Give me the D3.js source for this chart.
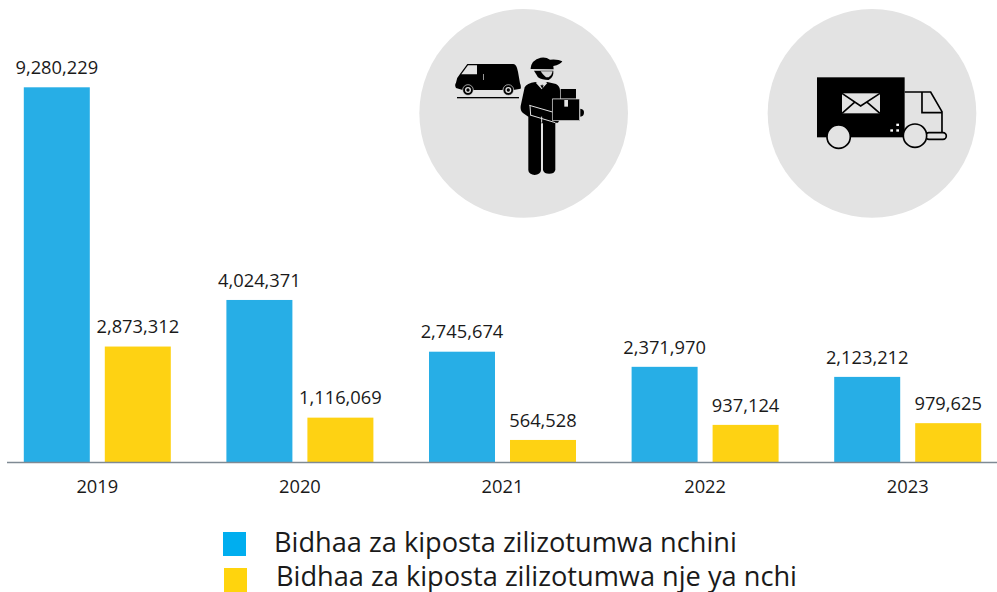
<!DOCTYPE html>
<html><head><meta charset="utf-8">
<script src="https://cdn.jsdelivr.net/npm/d3@7"></script>
<style>html,body{margin:0;padding:0;background:#fff}svg{display:block}text{font-family:"Open Sans",sans-serif;fill:#1a1a1a}</style>
</head><body><svg id="c" width="997" height="592"></svg>
<script>
const years = ["2019","2020","2021","2022","2023"];
const seriesNames = ["Bidhaa za kiposta zilizotumwa nchini","Bidhaa za kiposta zilizotumwa nje ya nchi"];
const domestic = [9280229,4024371,2745674,2371970,2123212];
const international = [2873312,1116069,564528,937124,979625];
const barColors = ["#27aee6","#fed213"];
const legendColors = ["#00aeef","#ffd40d"];

const svg = d3.select("#c");
const baseY = 462.5;
const x0 = d3.scaleBand().domain(years).range([-4,1009]);
const x1 = d3.scaleBand().domain([0,1]).range([x0.bandwidth()/2-73.5,x0.bandwidth()/2+73.5]).paddingInner(15/81).paddingOuter(0);
const y = d3.scaleLinear().domain([0,9280229]).range([baseY,87]);

[domestic,international].forEach((vals,s)=>{
  svg.append("g").selectAll("rect").data(vals).join("rect")
    .attr("x",(d,i)=>x0(years[i])+x1(s)).attr("width",x1.bandwidth())
    .attr("y",d=>y(d)+0.3).attr("height",d=>baseY-y(d)-0.3).attr("fill",barColors[s]);
  svg.append("g").selectAll("text").data(vals).join("text")
    .attr("x",(d,i)=>x0(years[i])+x1(s)+x1.bandwidth()/2)
    .attr("y",d=>y(d)-13).attr("text-anchor","middle").attr("font-size",18.3)
    .text(d3.format(","));
});

const axis = svg.append("g").attr("transform",`translate(0,${baseY})`)
  .call(d3.axisBottom(x0).tickSize(0).tickPadding(18));
axis.select(".domain").attr("d","M7,0H997").attr("stroke","#7f8a94").attr("stroke-width",1.4);
axis.selectAll("text").attr("font-size",18.3).style("font-family",'"Open Sans",sans-serif').attr("fill","#1a1a1a");

const legendPos = [{x:223,y:532,tx:274,ty:552},{x:224,y:568,tx:276,ty:585.5}];
seriesNames.forEach((n,i)=>{
  const p = legendPos[i];
  svg.append("rect").attr("x",p.x).attr("y",p.y).attr("width",23).attr("height",24).attr("fill",legendColors[i]);
  svg.append("text").attr("x",p.tx).attr("y",p.ty).attr("font-size",27.2).attr("fill","#111").text(n);
});

// icon 1: courier and van (drawn in 3x crop coordinates)
const a = svg.append("g").attr("transform","translate(410,0) scale(0.3333)");
a.append("circle").attr("cx",341).attr("cy",340).attr("r",313).attr("fill","#e3e3e3");
a.append("path").attr("fill","#000").attr("d","M172,192H310Q320,193 324,215L330,250Q334,258 332,266L310,270A18,18 0 0 0 278,270H190A18,18 0 0 0 158,270L138,264Q133,256 138,248Q140,232 150,222Z");
a.append("path").attr("fill","#e3e3e3").attr("d","M174,196H201V223H154Z");
a.append("rect").attr("x",219).attr("y",222).attr("width",2).attr("height",18).attr("fill","#e3e3e3");
[174,295].forEach(cx=>{
  a.append("circle").attr("cx",cx).attr("cy",270).attr("r",16).attr("fill","#000").attr("stroke","#e3e3e3").attr("stroke-width",2);
  a.append("circle").attr("cx",cx).attr("cy",270).attr("r",9).attr("fill","#e3e3e3");
  a.append("circle").attr("cx",cx).attr("cy",270).attr("r",5).attr("fill","#000");
});
a.append("rect").attr("x",141).attr("y",291).attr("width",186).attr("height",4).attr("fill","#000");
// cap
a.append("path").attr("fill","#000").attr("d","M362,205Q364,180 392,173Q408,170 420,179Q445,177 457,184Q452,194 430,198L431,208L362,207Z");
// face and mask
a.append("path").attr("fill","#000").attr("d","M372,212H430Q432,232 416,240Q396,240 384,232Z");
a.append("path").attr("fill","#d8d8d8").attr("d","M392,214H428Q426,226 416,232H408Q398,224 392,214Z");
// body
a.append("path").attr("fill","#000").attr("d","M376,246L395,255L412,246L438,252Q450,258 450,272V296H428V336L448,344Q454,354 444,368L436,368V510A19,15 0 0 1 399,510V370H393V510A19,15 0 0 1 355,510V350L340,340Q330,334 332,318L344,262Q350,250 376,246Z");
a.append("path").attr("fill","none").attr("stroke","#e3e3e3").attr("stroke-width",3).attr("d","M360,316L362,345M358,316L448,342M360,345L436,368M395,350V368");
a.append("path").attr("fill","#e3e3e3").attr("d","M378,249L395,268L412,249L404,247L396,255L386,247Z");
a.append("path").attr("fill","#000").attr("d","M391,256H401L397,266Z");
// boxes
a.append("rect").attr("x",452).attr("y",267).attr("width",46).attr("height",29).attr("fill","#000");
a.append("rect").attr("x",427).attr("y",297).attr("width",82).attr("height",65).attr("fill","#000").attr("stroke","#e3e3e3").attr("stroke-width",2);
a.append("rect").attr("x",463).attr("y",300).attr("width",11).attr("height",20).attr("fill","#e3e3e3");
a.append("path").attr("fill","#000").attr("d","M511,326Q523,328 522,338Q522,348 511,350Z");

// icon 2: mail truck
const b = svg.append("g").attr("transform","translate(760,0) scale(0.3333)");
b.append("circle").attr("cx",336).attr("cy",340).attr("r",313).attr("fill","#e3e3e3");
b.append("path").attr("fill","none").attr("stroke","#000").attr("stroke-width",5).attr("d","M434,276H512L546,335V400M486,276V338H546");
b.append("rect").attr("x",497).attr("y",398).attr("width",62).attr("height",20).attr("rx",10).attr("fill","#e3e3e3").attr("stroke","#000").attr("stroke-width",5);
b.append("rect").attr("x",171).attr("y",232).attr("width",263).attr("height",180).attr("fill","#000");
b.append("rect").attr("x",246).attr("y",280).attr("width",114).attr("height",60).attr("fill","#e3e3e3");
b.append("path").attr("fill","none").attr("stroke","#000").attr("stroke-width",5).attr("d","M246,280L302,318L360,280M246,340L285,306M360,340L320,306");
[[409,371],[391,388],[409,388]].forEach(([px,py])=>b.append("rect").attr("x",px).attr("y",py).attr("width",8).attr("height",7).attr("fill","#fff"));
[[236,410],[465,407]].forEach(([cx,cy])=>b.append("circle").attr("cx",cx).attr("cy",cy).attr("r",35).attr("fill","#e3e3e3").attr("stroke","#000").attr("stroke-width",5));
</script></body></html>
